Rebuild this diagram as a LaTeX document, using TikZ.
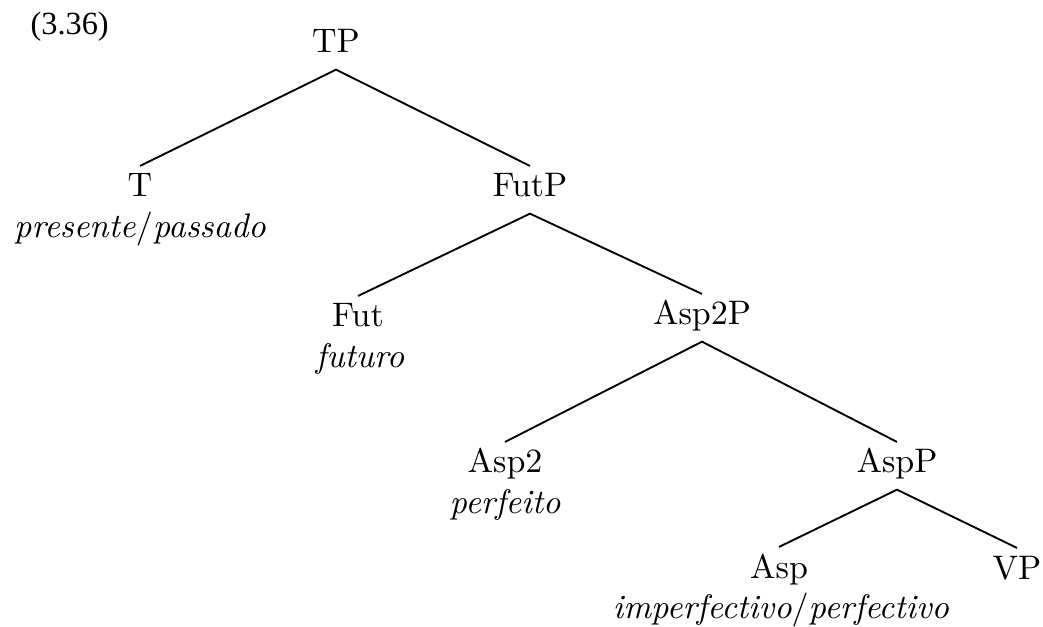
\documentclass[tikz,border=0pt]{standalone}
\usepackage{fontspec}
\newfontfamily\exfont{Liberation Serif}
\usetikzlibrary{calc}
\begin{document}
\begin{tikzpicture}[x=0.294pt,y=-0.294pt,
  cat/.style={inner xsep=0pt,inner ysep=2.1pt,text height=6.83pt,text depth=2.6pt,anchor=base},
  gloss/.style={inner sep=0pt,anchor=base,font=\itshape},
  branch/.style={line width=0.55pt}]
\useasboundingbox (0,0) rectangle (1043,627);
% example number
\node[anchor=base west,inner sep=0pt,font=\exfont\fontsize{9.5}{11}\selectfont] (num) at (30,35) {(3.36)};
% category labels
\node[cat] (TP)    at (336,53)  {TP};
\node[cat] (T)     at (140,197) {T};
\node[cat] (FutP)  at (530,197) {FutP};
\node[cat] (Fut)   at (358,327) {Fut};
\node[cat] (Asp2P) at (702,325) {Asp2P};
\node[cat] (Asp2)  at (505,473) {Asp2};
\node[cat] (AspP)  at (897,473) {AspP};
\node[cat] (Asp)   at (779,578) {Asp};
\node[cat] (VP)    at (1017,579) {VP};
% glosses
\node[gloss] (Tg)    at (140,238) {presente\/{\upshape/}passado};
\node[gloss] (Futg)  at (360,368) {futuro};
\node[gloss] (Asp2g) at (505,513) {perfeito};
\node[gloss] (Aspg)  at (781,618) {imperfectivo\/{\upshape/}perfectivo};
% branches
\draw[branch] (T.north) -- (TP.south) -- (FutP.north);
\draw[branch] (Fut.north) -- (FutP.south) -- (Asp2P.north);
\draw[branch] (Asp2.north) -- (Asp2P.south) -- (AspP.north);
\draw[branch] (Asp.north) -- (AspP.south) -- (VP.north);
\end{tikzpicture}
\end{document}
